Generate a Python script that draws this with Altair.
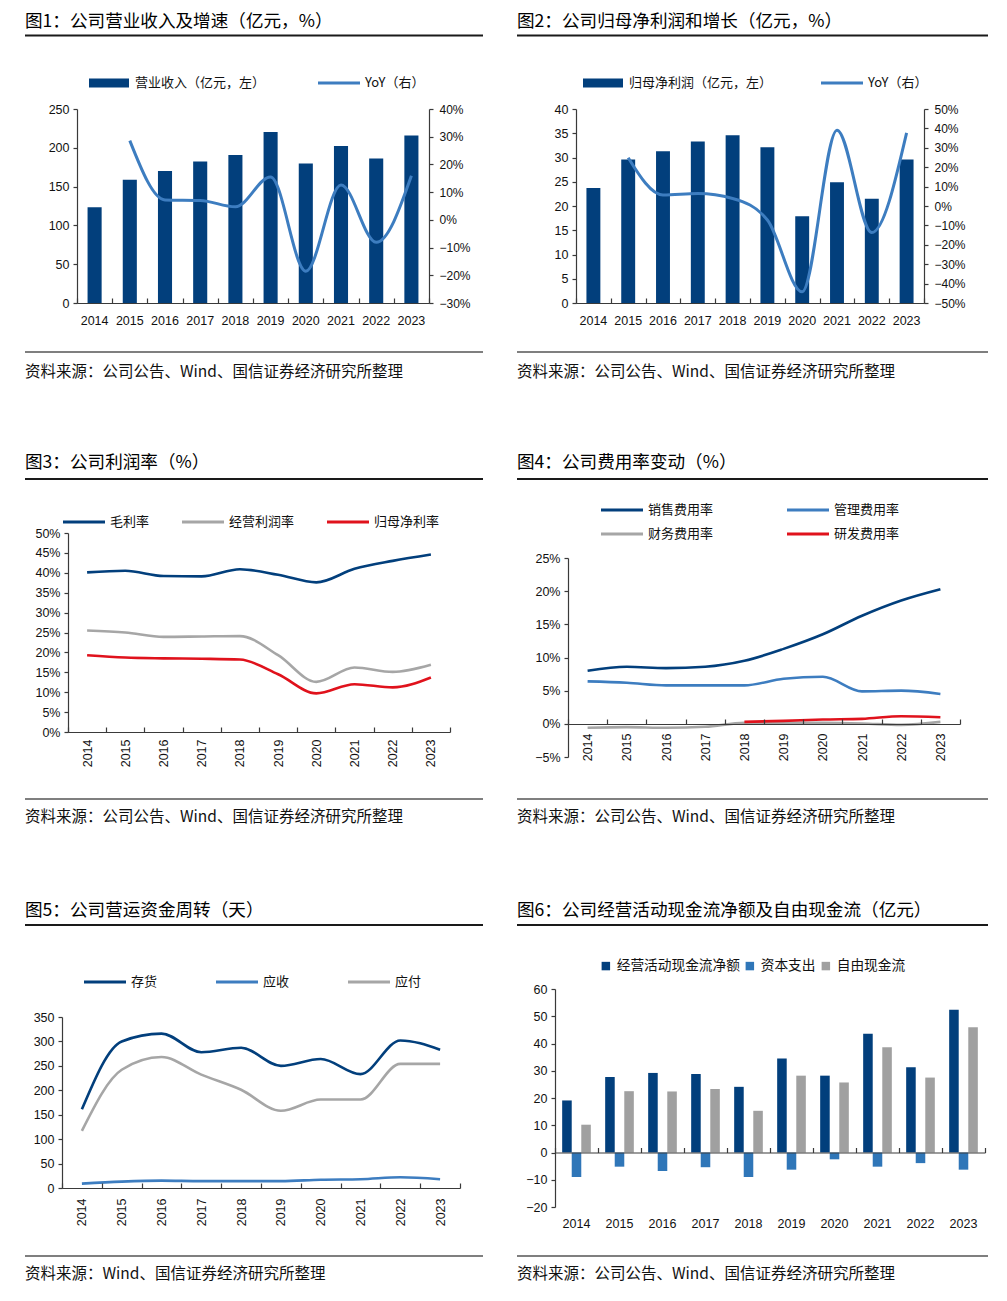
import altair as alt
import pandas as pd

YEARS = [str(y) for y in range(2014, 2024)]

# Fig 1: revenue (100m CNY) and YoY (%)
REV = [123.5, 158.7, 170.2, 182.2, 190.8, 220.4, 179.7, 202.4, 186.1, 215.7]
REV_YOY = [None, 28.6, 7.2, 7.0, 4.7, 15.5, -18.5, 12.6, -8.1, 15.9]
# Fig 2: net profit attributable (100m CNY) and YoY (%)
NP = [23.7, 29.6, 31.3, 33.3, 34.6, 32.1, 17.9, 24.9, 21.5, 29.6]
NP_YOY = [None, 24.9, 5.7, 6.4, 3.9, -7.2, -44.2, 39.1, -13.7, 37.7]
# Fig 3: margins (%)
S3 = ["毛利率", "经营利润率", "归母净利率"]
GM = [40.1, 40.5, 39.2, 39.1, 40.9, 39.5, 37.6, 41.0, 43.0, 44.6]
OPM = [25.5, 25.0, 23.9, 24.0, 24.1, 19.3, 12.6, 16.2, 15.1, 16.9]
NPM = [19.3, 18.7, 18.5, 18.4, 18.2, 14.5, 9.7, 12.0, 11.2, 13.7]
# Fig 4: expense ratios (%)
S4 = ["销售费用率", "管理费用率", "财务费用率", "研发费用率"]
SELL = [8.0, 8.6, 8.4, 8.6, 9.5, 11.3, 13.5, 16.3, 18.6, 20.3]
ADMIN = [6.4, 6.2, 5.8, 5.8, 5.8, 6.8, 7.1, 4.9, 5.0, 4.5]
FIN = [-0.6, -0.5, -0.6, -0.45, 0.15, 0.15, 0.15, 0.05, -0.15, 0.3]
RND = [None, None, None, None, 0.3, 0.45, 0.65, 0.75, 1.15, 1.0]
# Fig 5: working capital turnover (days)
S5 = ["存货", "应收", "应付"]
INV = [161, 300, 316, 278, 287, 250, 264, 233, 302, 283]
REC = [9, 13, 15, 14, 14, 14, 17, 18, 22, 18]
PAY = [117, 242, 268, 232, 201, 158, 181, 181, 254, 254]
# Fig 6: cash flows (100m CNY)
S6 = ["经营活动现金流净额", "资本支出", "自由现金流"]
OCF = [19.1, 27.7, 29.2, 28.8, 24.1, 34.5, 28.2, 43.6, 31.3, 52.4]
CAPEX = [-9.0, -5.2, -6.8, -5.4, -9.0, -6.3, -2.5, -5.2, -3.9, -6.3]
FCF = [10.2, 22.5, 22.4, 23.3, 15.3, 28.2, 25.7, 38.6, 27.5, 46.0]

SRC_A = "资料来源：公司公告、Wind、国信证券经济研究所整理"
SRC_B = "资料来源：Wind、国信证券经济研究所整理"

W, H = 1007, 1301
FONT_CJK = "Noto Sans CJK SC"
FONT_NUM = "Liberation Sans"
NAVY = "#023F7C"
BLUE = "#3D7DC0"
GREY = "#A6A6A6"
RED = "#E0121C"
CAPEX_BLUE = "#2F76B8"
AXC = "#3A3A3A"
PCT = "format(datum.value, 'd') + '%'"

ONE = pd.DataFrame({"k": [0]})
LINE_SYM = "M-1,0H3"
BAR_SYM = "M-1,-0.45H3V0.45H-1Z"


def xs(x0, x1):
    return alt.Scale(domain=YEARS, range=[x0, x1], paddingInner=0, paddingOuter=0)


def ys(dom, ytop, ybot):
    return alt.Scale(domain=dom, range=[ybot, ytop], nice=False, zero=False)


def xlab_axis(y_axis, angle=0, pad=10):
    return alt.Axis(orient="bottom", offset=y_axis - H, domain=False, ticks=False,
                    labelAngle=angle, labelPadding=pad, labelFont=FONT_NUM, labelFontSize=12.5,
                    labelColor="#111", title=None, grid=False)


def tick_layer(x0, x1, y_axis):
    return alt.Chart(pd.DataFrame({"year": YEARS})).mark_point(opacity=0, size=1).encode(
        x=alt.X("year:N", sort=YEARS, scale=xs(x0, x1),
                axis=alt.Axis(orient="top", offset=-y_axis, labels=False, domain=True, ticks=True,
                              tickBand="extent", tickSize=5, domainColor=AXC, tickColor=AXC,
                              domainWidth=1.2, tickWidth=1.2, title=None, grid=False, zindex=1)),
        y=alt.value(y_axis - 5))


def yaxis(values, orient, offset, fmt=None, size=12.5, pad=4):
    kw = dict(orient=orient, offset=offset, values=values, domainColor=AXC, tickColor=AXC,
              tickSize=4, labelPadding=pad, labelFont=FONT_NUM, labelFontSize=size,
              labelColor="#111", title=None, grid=False, domainWidth=1.2, tickWidth=1.2)
    if fmt:
        kw["labelExpr"] = fmt
    return alt.Axis(**kw)


def legend(x, y, sym, size, lab_off, fs=13, **kw):
    return alt.Legend(orient="none", legendX=x, legendY=y, title=None, symbolType=sym,
                      symbolSize=size, labelOffset=lab_off, labelFont=FONT_CJK,
                      labelFontSize=fs, labelColor="#111", padding=0, **kw)


def frame(title, source, tx, ty, ux2, uy, sy, sty):
    return [
        alt.Chart(ONE).mark_text(text=title, align="left", baseline="middle", font=FONT_CJK,
                                 fontSize=17.6, color="#000").encode(x=alt.value(tx), y=alt.value(ty)),
        alt.Chart(ONE).mark_rule(color="#1a1a1a", strokeWidth=1.8).encode(
            x=alt.value(tx), x2=alt.value(ux2), y=alt.value(uy)),
        alt.Chart(ONE).mark_rule(color="#555555", strokeWidth=1.3).encode(
            x=alt.value(tx), x2=alt.value(ux2), y=alt.value(sy)),
        alt.Chart(ONE).mark_text(text=source, align="left", baseline="middle", font=FONT_CJK,
                                 fontSize=15.5, color="#111").encode(x=alt.value(tx), y=alt.value(sty)),
    ]


def bar_line_panel(vals, yoy, bar_name, line_name, ydom, yvals, rdom, rvals, box,
                   legx1, legx2, legy, title, tx, ux2):
    x0, x1, yt, yb = box
    d = pd.DataFrame({"year": YEARS, "v": vals, "yoy": yoy, "s1": bar_name, "s2": line_name})
    bars = alt.Chart(d).mark_bar(width=alt.RelativeBandSize(0.4)).encode(
        x=alt.X("year:N", sort=YEARS, scale=xs(x0, x1), axis=xlab_axis(yb, 0, 11)),
        y=alt.Y("v:Q", scale=ys(ydom, yt, yb), axis=yaxis(yvals, "left", -x0)),
        color=alt.Color("s1:N", scale=alt.Scale(range=[NAVY]),
                        legend=legend(legx1, legy - 10, BAR_SYM, 400, 26, symbolStrokeWidth=0)))
    line = alt.Chart(d).mark_line(interpolate="monotone", strokeWidth=3).encode(
        x=alt.X("year:N", sort=YEARS, scale=xs(x0, x1), axis=None),
        y=alt.Y("yoy:Q", scale=ys(rdom, yt, yb),
                axis=yaxis(rvals, "right", x1 - W, PCT, 12, 6)),
        color=alt.Color("s2:N", scale=alt.Scale(range=[BLUE]),
                        legend=legend(legx2 - 1.5, legy - 12, LINE_SYM, 441, 24.5,
                                      symbolStrokeWidth=3)))
    return [bars, line, tick_layer(x0, x1, yb)] + frame(title, SRC_A, tx, 21.5, ux2, 35.5, 352, 372)


def line_panel(series, names, colors, ydom, yvals, fmt, box, zero_y, lab_pad, leg_kw,
               title, source, fr):
    x0, x1, yt, yb = box
    rows = []
    for name, vals in zip(names, series):
        for yr, v in zip(YEARS, vals):
            if v is not None:
                rows.append({"year": yr, "s": name, "v": v})
    d = pd.DataFrame(rows)
    lines = alt.Chart(d).mark_line(interpolate="monotone", strokeWidth=2.6).encode(
        x=alt.X("year:N", sort=YEARS, scale=xs(x0, x1), axis=xlab_axis(zero_y, -90, lab_pad)),
        y=alt.Y("v:Q", scale=ys(ydom, yt, yb), axis=yaxis(yvals, "left", -x0, fmt=fmt)),
        color=alt.Color("s:N", sort=names, scale=alt.Scale(domain=names, range=colors),
                        legend=legend(symbolStrokeWidth=3, **leg_kw)))
    return [lines, tick_layer(x0, x1, zero_y)] + frame(title, source, *fr)


L1 = bar_line_panel(REV, REV_YOY, "营业收入（亿元，左）", "YoY（右）", [0, 250],
                    list(range(0, 251, 50)), [-30, 40], list(range(-30, 41, 10)),
                    (77, 429, 109, 303), 89, 318, 83,
                    "图1：公司营业收入及增速（亿元，%）", 25, 483)
L2 = bar_line_panel(NP, NP_YOY, "归母净利润（亿元，左）", "YoY（右）", [0, 40],
                    list(range(0, 41, 5)), [-50, 50], list(range(-50, 51, 10)),
                    (576, 924, 109, 303), 583, 821, 83,
                    "图2：公司归母净利润和增长（亿元，%）", 517, 988)

L3 = line_panel([GM, OPM, NPM], S3, [NAVY, GREY, RED], [0, 50], list(range(0, 51, 5)),
                "datum.value + '%'", (68, 450, 533, 732), 732, 7,
                dict(x=63 - 1.5, y=522 - 12, sym=LINE_SYM, size=441, lab_off=24.5,
                     direction="horizontal", columns=3, columnPadding=26),
                "图3：公司利润率（%）", SRC_A, (25, 463, 483, 479, 799, 817))
L4 = line_panel([SELL, ADMIN, FIN, RND], S4, [NAVY, BLUE, GREY, RED], [-5, 25],
                list(range(-5, 26, 5)), PCT, (568, 960, 558, 757), 724, 9,
                dict(x=601 - 1.5, y=509 - 11, sym=LINE_SYM, size=441, lab_off=24.5,
                     direction="horizontal", columns=2, columnPadding=67, rowPadding=5),
                "图4：公司费用率变动（%）", SRC_A, (517, 463, 988, 479, 799, 817))
L5 = line_panel([INV, REC, PAY], S5, [NAVY, BLUE, GREY], [0, 350], list(range(0, 351, 50)),
                None, (62, 460, 1017, 1188), 1188, 10,
                dict(x=84 - 1.5, y=982 - 12, sym=LINE_SYM, size=441, lab_off=24.5,
                     direction="horizontal", columns=3, columnPadding=52),
                "图5：公司营运资金周转（天）", SRC_B, (25, 910.5, 483, 925, 1256, 1274))

# Fig 6 grouped bars
rows6 = []
for name, vals in zip(S6, [OCF, CAPEX, FCF]):
    for yr, v in zip(YEARS, vals):
        rows6.append({"year": yr, "s": name, "v": v})
d6 = pd.DataFrame(rows6)
X60, X61, Y6T, Y6B = 555, 985, 989, 1207
Y6Z = Y6B - (Y6B - Y6T) * 20 / 80
bars6 = alt.Chart(d6).mark_bar().encode(
    x=alt.X("year:N", sort=YEARS, scale=xs(X60, X61), axis=xlab_axis(Y6B, 0, 10)),
    xOffset=alt.XOffset("s:N", sort=S6,
                        scale=alt.Scale(domain=S6, paddingInner=0, paddingOuter=0.75)),
    y=alt.Y("v:Q", scale=ys([-20, 60], Y6T, Y6B), axis=yaxis(list(range(-20, 61, 10)), "left", -X60)),
    color=alt.Color("s:N", sort=S6,
                    scale=alt.Scale(domain=S6, range=[NAVY, CAPEX_BLUE, "#A0A0A0"]),
                    legend=legend(599, 966 - 7, "square", 72, 4, fs=13.7,
                                  direction="horizontal", columns=3, columnPadding=3,
                                  symbolStrokeWidth=0)))
L6 = [bars6, tick_layer(X60, X61, Y6Z)] + frame(
    "图6：公司经营活动现金流净额及自由现金流（亿元）", SRC_A, 517, 910.5, 988, 925, 1256, 1274)

chart = alt.layer(*(L1 + L2 + L3 + L4 + L5 + L6)).resolve_scale(
    x="independent", y="independent", color="independent").resolve_axis(
    x="independent", y="independent").resolve_legend(color="independent").properties(
    width=W, height=H, padding=0, background="white").configure_view(
    stroke=None).configure_axis(grid=False)

chart.save("out.html", embed_options={"renderer": "svg", "actions": False})
